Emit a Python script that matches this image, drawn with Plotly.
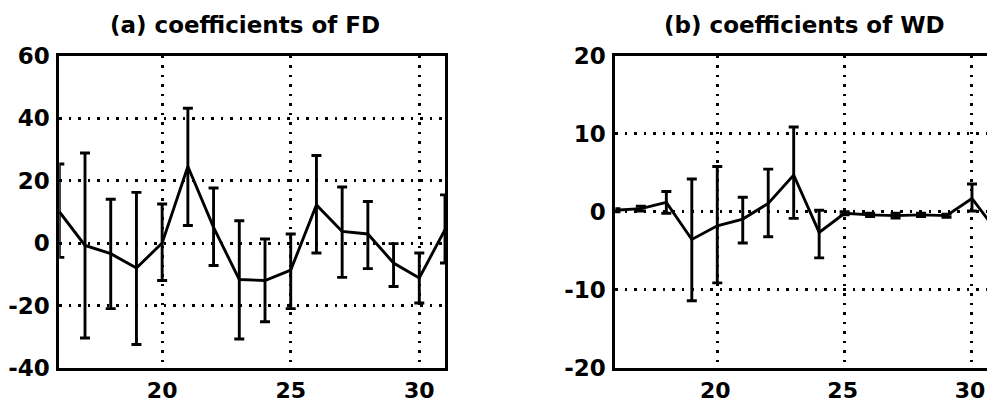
import plotly.graph_objects as go

# ---- data ----
x_vals = [16, 17, 18, 19, 20, 21, 22, 23, 24, 25, 26, 27, 28, 29, 30, 31]

fd_coef = [10.0, -0.8, -3.4, -8.0, 0.0, 24.5, 5.0, -11.7, -12.0, -8.7, 12.2, 3.7, 2.9, -6.4, -11.2, 4.3]
fd_upper = [25.3, 28.8, 14.0, 16.2, 12.5, 43.1, 17.6, 7.1, 1.3, 2.9, 28.0, 17.9, 13.3, -0.2, -3.2, 15.4]
fd_lower = [-4.6, -30.4, -21.0, -32.5, -12.0, 5.6, -7.2, -30.7, -25.2, -21.0, -3.2, -11.0, -8.2, -13.9, -19.2, -6.4]

wd_coef = [0.2, 0.4, 1.2, -3.55, -1.8, -0.94, 1.07, 4.7, -2.65, -0.2, -0.4, -0.5, -0.4, -0.5, 1.7, -2.6]
wd_upper = [0.4, 0.7, 2.6, 4.2, 5.8, 1.85, 5.45, 10.85, 0.2, 0.0, -0.2, -0.2, -0.2, -0.3, 3.55, -0.8]
wd_lower = [0.0, 0.1, -0.2, -11.4, -9.1, -4.0, -3.2, -0.85, -5.9, -0.4, -0.6, -0.8, -0.6, -0.7, 0.1, -4.4]

x_ticks = [20, 25, 30]
x_ticktext = ["20", "25", "30"]
fd_yticks = [-40, -20, 0, 20, 40, 60]
fd_yticktext = ["-40", "-20", "0", "20", "40", "60"]
wd_yticks = [-20, -10, 0, 10, 20]
wd_yticktext = ["-20", "-10", "0", "10", "20"]

titles = ["(a) coefficients of FD", "(b) coefficients of WD"]

# ---- figure ----
OFF = 8  # default body margin of the page
W, H = 995 - 2 * OFF, 410 - 2 * OFF
font_family = "DejaVu Sans, Liberation Sans, Arial, sans-serif"


def px_x(p):
    return (p - OFF) / W


def px_y(p):
    return 1 - (p - OFF) / H


def err_arrays(c, up, lo):
    plus = [u - v for u, v in zip(up, c)]
    minus = [v - l for v, l in zip(c, lo)]
    return plus, minus


fig = go.Figure()

for coef, up, lo, xa, ya in [(fd_coef, fd_upper, fd_lower, "x", "y"),
                              (wd_coef, wd_upper, wd_lower, "x2", "y2")]:
    plus, minus = err_arrays(coef, up, lo)
    fig.add_trace(go.Scatter(
        x=x_vals, y=coef, mode="lines",
        line=dict(color="black", width=2.9),
        error_y=dict(type="data", symmetric=False, array=plus, arrayminus=minus,
                     color="black", thickness=2.9, width=5),
        xaxis=xa, yaxis=ya, showlegend=False,
    ))

axis_common = dict(showgrid=True, gridcolor="black", gridwidth=2.5,
                   griddash="2.5px,7px", zeroline=False, ticks="",
                   linecolor="black", linewidth=3, showline=True, automargin=False)
yfont = dict(family=font_family, size=23, color="black", weight="bold")
xfont = dict(family=font_family, size=22, color="black", weight="bold")

y_dom = [px_y(368), px_y(55.5)]
right_end_px = OFF + W  # right edge of the figure in page pixels
x2_start = 615.4
x2_unit = 25.47

fig.update_layout(
    width=W, height=H,
    margin=dict(l=0, r=0, t=0, b=0, autoexpand=False),
    paper_bgcolor="white", plot_bgcolor="white",
    xaxis=dict(domain=[px_x(59.3), px_x(445)], range=[16, 31], tickvals=x_ticks,
               ticktext=x_ticktext, mirror=True, anchor="y", tickfont=xfont,
               ticklabelstandoff=1, **axis_common),
    yaxis=dict(domain=y_dom, range=[-40, 60], tickvals=fd_yticks,
               ticktext=fd_yticktext, mirror=True, anchor="x", tickfont=yfont,
               ticklabelstandoff=2, **axis_common),
    xaxis2=dict(domain=[px_x(x2_start), 1.0],
                range=[16, 16 + (right_end_px - x2_start) / x2_unit],
                tickvals=x_ticks, ticktext=x_ticktext, mirror=True, anchor="y2",
                tickfont=xfont, ticklabelstandoff=1, ticklabelshift=-2,
                ticklabeloverflow="allow", **axis_common),
    yaxis2=dict(domain=y_dom, range=[-20, 20], tickvals=wd_yticks,
                ticktext=wd_yticktext, mirror=False, anchor="x2", tickfont=yfont,
                ticklabelstandoff=2, **axis_common),
)

title_x = [px_x(245), px_x(804)]
for t, tx in zip(titles, title_x):
    fig.add_annotation(text=t, x=tx, y=px_y(25.5), xref="paper", yref="paper",
                       xanchor="center", yanchor="middle", showarrow=False,
                       font=dict(family=font_family, size=23, color="black", weight="bold"))

fig.write_html("out.html")
